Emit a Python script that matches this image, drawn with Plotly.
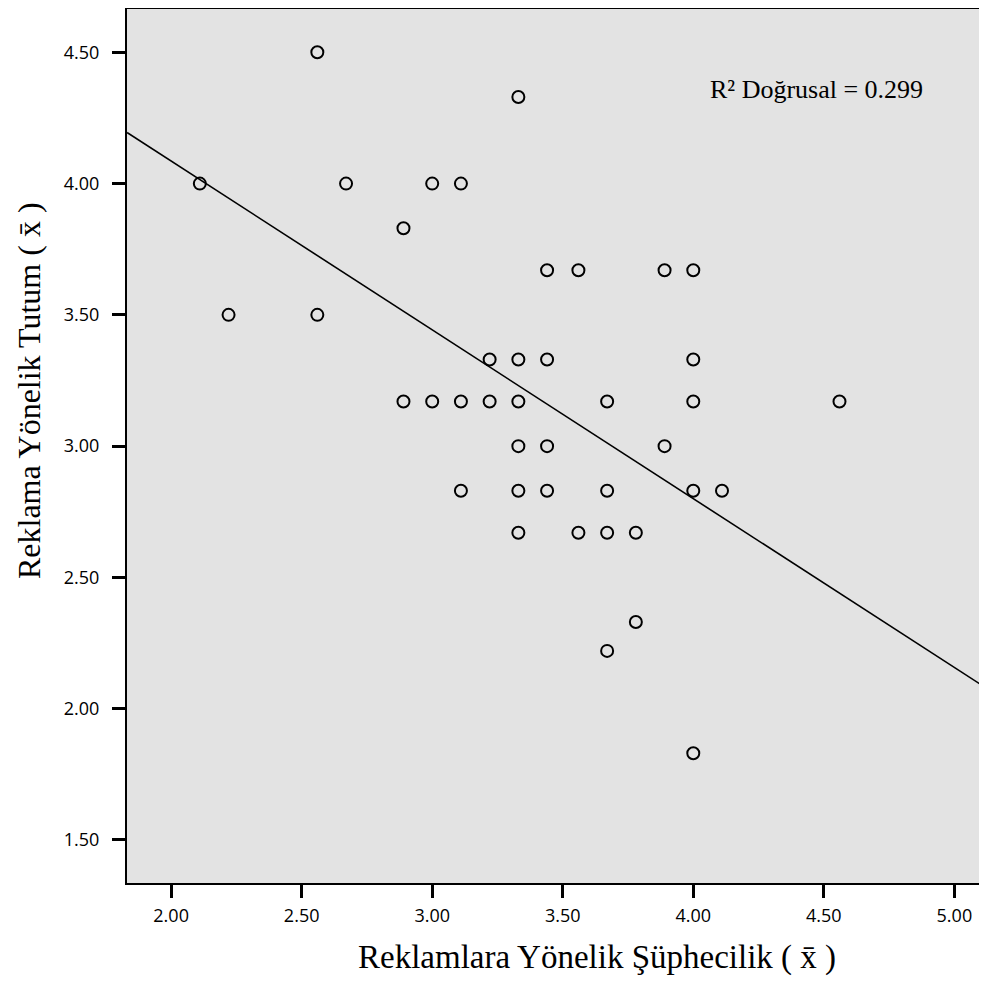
import plotly.graph_objects as go

# Data
x_vals = [2.56, 3.33, 2.11, 2.67, 3.00, 3.11, 2.89, 3.44, 3.56, 3.89, 4.00,
          2.22, 2.56, 3.22, 3.33, 3.44, 4.00,
          2.89, 3.00, 3.11, 3.22, 3.33, 3.67, 4.00, 4.56,
          3.33, 3.44, 3.89,
          3.11, 3.33, 3.44, 3.67, 4.00, 4.11,
          3.33, 3.56, 3.67, 3.78,
          3.78, 3.67, 4.00]
y_vals = [4.50, 4.33, 4.00, 4.00, 4.00, 4.00, 3.83, 3.67, 3.67, 3.67, 3.67,
          3.50, 3.50, 3.33, 3.33, 3.33, 3.33,
          3.17, 3.17, 3.17, 3.17, 3.17, 3.17, 3.17, 3.17,
          3.00, 3.00, 3.00,
          2.83, 2.83, 2.83, 2.83, 2.83, 2.83,
          2.67, 2.67, 2.67, 2.67,
          2.33, 2.22, 1.83]

fit_slope = -0.643
fit_intercept = 5.372
r2_text = "R² Doğrusal = 0.299"
x_title = "Reklamlara Yönelik Şüphecilik ( x̄ )"
y_title = "Reklama Yönelik Tutum ( x̄ )"

x_range = [1.831, 5.125]
y_range = [1.336, 4.665]
x_ticks = [2.00, 2.50, 3.00, 3.50, 4.00, 4.50, 5.00]
y_ticks = [1.50, 2.00, 2.50, 3.00, 3.50, 4.00, 4.50]

line_x = x_range
line_y = [fit_intercept + fit_slope * v for v in line_x]

fig = go.Figure()
fig.add_trace(go.Scatter(
    x=line_x, y=line_y, mode="lines",
    line=dict(color="black", width=1.6), hoverinfo="skip", showlegend=False))
fig.add_trace(go.Scatter(
    x=x_vals, y=y_vals, mode="markers",
    marker=dict(symbol="circle-open", size=12, color="black", line=dict(width=2)),
    showlegend=False))

serif = "Liberation Serif"
fig.add_annotation(
    x=0.8017, y=0.908, xref="paper", yref="paper", text=r2_text, showarrow=False,
    font=dict(family=serif, size=26, color="black"), xanchor="center", yanchor="middle")
fig.add_annotation(
    x=0.546, y=-0.0847, xref="paper", yref="paper", text=x_title, showarrow=False,
    font=dict(family=serif, size=33, color="black"), xanchor="center", yanchor="middle")
fig.add_annotation(
    x=-0.1140, y=0.564, xref="paper", yref="paper", text=y_title, showarrow=False,
    textangle=-90, borderpad=0,
    font=dict(family=serif, size=32, color="black"), xanchor="center", yanchor="middle")

tick_font = dict(family="Open Sans", size=18, color="black")

fig.update_xaxes(
    range=x_range, tickvals=x_ticks, ticktext=[f"{v:.2f}" for v in x_ticks],
    ticks="outside", ticklen=13, tickwidth=2.5, tickcolor="black",
    showline=True, linecolor="black", linewidth=2, mirror=True,
    showgrid=False, zeroline=False, tickfont=tick_font, ticklabelstandoff=2)
fig.update_yaxes(
    range=y_range, tickvals=y_ticks, ticktext=[f"{v:.2f}" for v in y_ticks],
    ticks="outside", ticklen=13, tickwidth=2.5, tickcolor="black",
    showline=True, linecolor="black", linewidth=2, mirror=False,
    showgrid=False, zeroline=False, tickfont=tick_font, ticklabelstandoff=9)

fig.update_layout(
    width=979, height=975,
    margin=dict(l=119, r=0, t=1, b=100),
    plot_bgcolor="#e3e3e3", paper_bgcolor="white")

fig.write_html("out.html")
